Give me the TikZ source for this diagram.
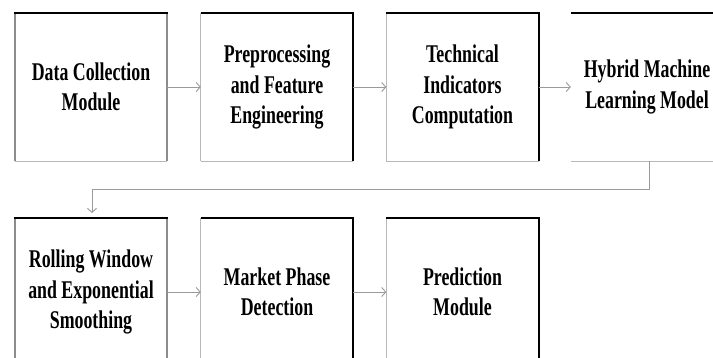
\documentclass[tikz,border=0pt]{standalone}
\usepackage{fontspec}
\setmainfont{Liberation Serif}[FakeStretch=0.70]
\usetikzlibrary{arrows.meta}
\definecolor{linegray}{HTML}{9A9A9A}
\definecolor{sidegray}{HTML}{8C8C8C}
\definecolor{thingray}{HTML}{B8B8B8}
\begin{document}
\begin{tikzpicture}[x=1pt,y=-1pt,
  blk/.style={minimum width=152pt,minimum height=148pt,inner sep=0pt,align=center,
    font=\fontsize{25.5}{30.5}\selectfont\bfseries},
  topside/.style={draw=black,line width=2.2pt},
  darkright/.style={draw=black,line width=2.2pt},
  grayside/.style={draw=sidegray,line width=2pt},
  thinside/.style={draw=thingray,line width=0.9pt},
  conn/.style={draw=linegray,line width=0.9pt,-{Straight Barb[length=4pt,width=9pt]}}]
\useasboundingbox (0,0) rectangle (713,357);
\clip (0,0) rectangle (713,357);
\fill[white] (0,0) rectangle (713,357);
% row 1
\node[blk] (b1) at (91,87) {Data Collection\\Module};
\node[blk] (b2) at (277,87) {Preprocessing\\and Feature\\Engineering};
\node[blk] (b3) at (462.5,87) {Technical\\Indicators\\Computation};
\node[blk] (b4) at (647,87) {Hybrid Machine\\Learning Model};
% row 2
\node[blk] (b5) at (91,292) {Rolling Window\\and Exponential\\Smoothing};
\node[blk] (b6) at (277,292) {Market Phase\\Detection};
\node[blk] (b7) at (462.5,292) {Prediction\\Module};
% box sides
\foreach \b in {b1,b5}{
  \draw[thinside] (\b.south west) -- (\b.south east);
  \draw[grayside] (\b.south west) -- (\b.north west);
  \draw[grayside] (\b.south east) -- (\b.north east);
  \draw[topside] ([xshift=-1pt]\b.north west) -- ([xshift=1pt]\b.north east);
}
\foreach \b in {b2,b3,b6,b7}{
  \draw[thinside] (\b.south west) -- (\b.south east);
  \draw[thinside] (\b.south west) -- (\b.north west);
  \draw[darkright] (\b.south east) -- (\b.north east);
  \draw[topside] (\b.north west) -- ([xshift=1.1pt]\b.north east);
}
\draw[thinside] (b4.south west) -- (b4.south east);
\draw[topside] (b4.north west) -- (b4.north east);
% connectors
\draw[conn] (b1) -- (b2);
\draw[conn] (b2) -- (b3);
\draw[conn] (b3) -- (b4);
\coordinate (t1) at (649,189);
\coordinate (t2) at (92,189);
\coordinate (t3) at (92,213);
\draw[conn] (b4.south -| t1) -- (t1) -- (t2) -- (t3);
\draw[conn] (b5) -- (b6);
\draw[conn] (b6) -- (b7);
\end{tikzpicture}
\end{document}
